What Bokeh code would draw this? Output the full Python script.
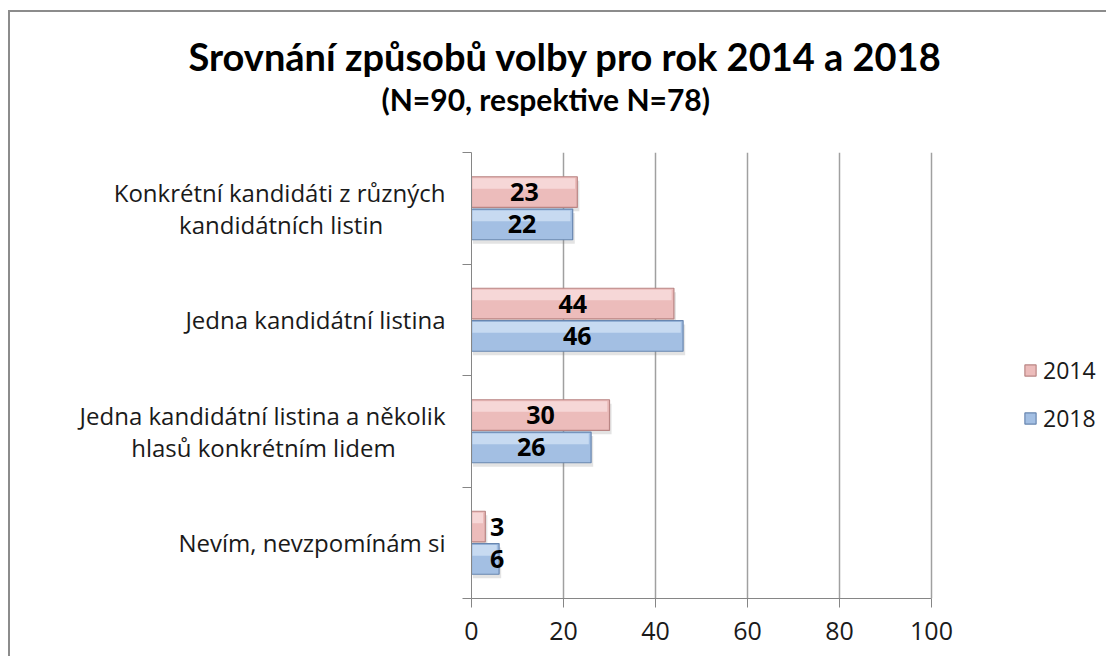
from bokeh.plotting import figure
from bokeh.models import Range1d, FixedTicker, Title, Legend, LegendItem, ColumnDataSource
from bokeh.embed import file_html
from bokeh.resources import INLINE
from bokeh.core.properties import value

NB = "\u00a0"
categories = [
    "Konkrétní kandidáti z různých\nkandidátních listin" + NB * 10,
    "Jedna kandidátní listina",
    "Jedna kandidátní listina a několik\nhlasů konkrétním lidem" + NB * 8,
    "Nevím, nevzpomínám si",
]
values_2014 = [23, 44, 30, 3]
values_2018 = [22, 46, 26, 6]
series_names = ["2014", "2018"]
x_ticks = [0, 20, 40, 60, 80, 100]
title_text = "Srovnání způsobů volby pro rok 2014 a 2018"
subtitle_text = "(N=90, respektive N=78)"

n = len(categories)
ypos = [n - 0.5 - i for i in range(n)]
OFF = 0.145
H = 0.275

W, HGT = 1098, 646
FRAME_W = 625
x_end = 100 * FRAME_W / 460.0   # frame extends right so the legend fits inside it

p = figure(width=W, height=HGT, output_backend="svg", toolbar_location=None,
           title=None, x_range=Range1d(0, x_end), y_range=Range1d(0, n),
           min_border_left=461, min_border_right=W - 461 - FRAME_W, min_border_top=140,
           min_border_bottom=60)
p.styles = {"border-left": "2px solid #8c8c8c", "border-top": "2px solid #8c8c8c",
            "margin-left": "8px", "margin-top": "10px"}
p.outline_line_color = None
p.background_fill_color = "white"
p.border_fill_color = "white"

fills = {"2014": ("#ecbcbb", "#fae0e0", "#b98584"), "2018": ("#a3bfe3", "#d3e3f6", "#6886b0")}
renderers = {}
for name, vals, dy in [("2014", values_2014, OFF), ("2018", values_2018, -OFF)]:
    main, light, edge = fills[name]
    src = ColumnDataSource(dict(
        y=[y + dy for y in ypos],
        ys=[y + dy - 0.035 for y in ypos],
        yh=[y + dy + H * 0.28 for y in ypos],
        v=vals,
        vs=[v + 0.45 for v in vals],
        vh=[max(v - 0.5, 0) for v in vals],
        lx=[max(v / 2, 5.6) for v in vals],
        txt=[str(v) for v in vals],
    ))
    p.hbar(y="ys", right="vs", left=0.3, height=H, source=src,
           fill_color="#808080", fill_alpha=0.22, line_color=None)
    r = p.hbar(y="y", right="v", left=0, height=H, source=src,
               fill_color=main, line_color=edge, line_width=1.2)
    p.hbar(y="yh", right="vh", left=0.2, height=H * 0.35, source=src,
           fill_color=light, fill_alpha=0.75, line_color=None)
    p.text(x="lx", y="y", text="txt", source=src, text_align="center",
           text_baseline="middle", text_font=value("Open Sans"),
           text_font_style="bold", text_font_size="25px", text_color="black")
    renderers[name] = r

p.xaxis.ticker = FixedTicker(ticks=x_ticks)
p.xaxis.bounds = (0, 100)
p.xaxis.axis_line_color = "#868686"
p.xaxis.major_tick_line_color = "#868686"
p.xaxis.major_tick_out = 9
p.xaxis.major_tick_in = 0
p.xaxis.minor_tick_line_color = None
p.xaxis.major_label_text_font = "Open Sans"
p.xaxis.major_label_text_font_size = "25px"
p.xaxis.major_label_text_color = "#1a1a1a"
p.xaxis.major_label_standoff = 14

p.yaxis.ticker = FixedTicker(ticks=ypos, minor_ticks=[float(i) for i in range(n + 1)])
p.yaxis.major_label_overrides = {y: c for y, c in zip(ypos, categories)}
p.yaxis.axis_line_color = "#868686"
p.yaxis.major_tick_out = 0
p.yaxis.major_tick_in = 0
p.yaxis.minor_tick_line_color = "#868686"
p.yaxis.minor_tick_out = 9
p.yaxis.minor_tick_in = 0
p.yaxis.major_label_text_font = "Open Sans"
p.yaxis.major_label_text_font_size = "24px"
p.yaxis.major_label_text_line_height = 0.98
p.yaxis.major_label_text_color = "#1a1a1a"
p.yaxis.major_label_standoff = 17

p.xgrid.ticker = FixedTicker(ticks=x_ticks)
p.xgrid.grid_line_color = "#a0a0a0"
p.xgrid.grid_line_width = 1.5
p.ygrid.grid_line_color = None

spacer = Title(text=NB, text_font_size="8px", standoff=25)
sub = Title(text=subtitle_text, align="left", offset=-90, text_font="Lato",
            text_font_style="bold", text_font_size="30px", text_color="black",
            standoff=0)
ttl = Title(text=title_text, align="left", offset=-283, text_font="Lato",
            text_font_style="bold", text_font_size="38px", text_color="black",
            standoff=0)
p.add_layout(spacer, "above")
p.add_layout(sub, "above")
p.add_layout(ttl, "above")

legend = Legend(items=[LegendItem(label=s, renderers=[renderers[s]]) for s in series_names],
                location=(552, 164), orientation="vertical", border_line_color=None,
                background_fill_alpha=0, padding=0, margin=0, spacing=16,
                glyph_width=14, glyph_height=14, label_text_font="Open Sans",
                label_text_font_size="23px", label_standoff=6, label_text_color="#1a1a1a")
p.add_layout(legend, "center")

open("out.html", "w").write(file_html(p, INLINE))
